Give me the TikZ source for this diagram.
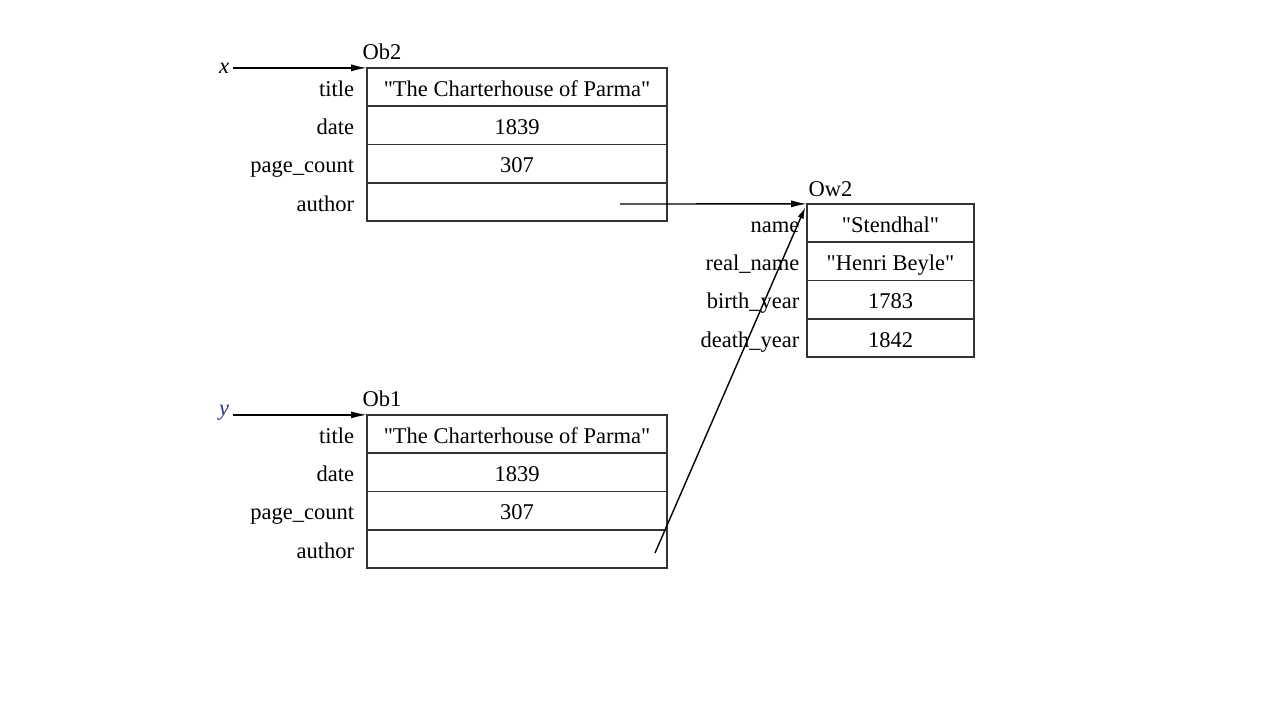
\documentclass[tikz,border=0pt]{standalone}
\usepackage{fontspec}
\setmainfont{Liberation Serif}[Ligatures=TeXOff]
\usetikzlibrary{positioning,arrows.meta}

\definecolor{varblue}{rgb}{0.12,0.22,0.55}

\tikzset{
  cell/.style={draw=black!80, line width=0.5pt, minimum width=3cm, minimum height=3.83mm,
    inner sep=0pt, outer sep=0pt, text height=1.6ex, text depth=0.45ex},
  wcell/.style={cell, minimum width=1.67cm},
  field/.style={inner sep=0pt, text height=1.6ex, text depth=0.45ex},
  objname/.style={inner sep=0pt, anchor=south west},
  ptr/.style={-{Latex[length=4.5pt,width=2pt]}, line width=0.4pt},
}

\begin{document}
\begin{tikzpicture}[x=0.01cm,y=-0.01cm,font=\fontsize{6.4}{7.6}\selectfont]
\useasboundingbox (0,0) rectangle (1280,720);

% first book, Ob2
\node[cell] (b2title) at (517,87) {"The Charterhouse of Parma"};
\node[cell,below=0pt of b2title] (b2date) {1839};
\node[cell,below=0pt of b2date] (b2pages) {307};
\node[cell,below=0pt of b2pages] (b2author) {};
\node[field,left=1.2mm of b2title] {title};
\node[field,left=1.2mm of b2date] {date};
\node[field,left=1.2mm of b2pages] {page\_count};
\node[field,left=1.2mm of b2author] {author};
\node[objname] (ob2) at ([xshift=-1.4pt,yshift=2.2pt]b2title.north west) {Ob2};

% second book, Ob1
\node[cell] (b1title) at (517,434) {"The Charterhouse of Parma"};
\node[cell,below=0pt of b1title] (b1date) {1839};
\node[cell,below=0pt of b1date] (b1pages) {307};
\node[cell,below=0pt of b1pages] (b1author) {};
\node[field,left=1.2mm of b1title] {title};
\node[field,left=1.2mm of b1date] {date};
\node[field,left=1.2mm of b1pages] {page\_count};
\node[field,left=1.2mm of b1author] {author};
\node[objname] (ob1) at ([xshift=-1.4pt,yshift=2pt]b1title.north west) {Ob1};

% writer, Ow2
\node[wcell] (wname) at (890.5,223) {"Stendhal"};
\node[wcell,below=0pt of wname] (wreal) {"Henri Beyle"};
\node[wcell,below=0pt of wreal] (wbirth) {1783};
\node[wcell,below=0pt of wbirth] (wdeath) {1842};
\node[field,left=0.7mm of wname] {name};
\node[field,left=0.7mm of wreal] {real\_name};
\node[field,left=0.7mm of wbirth] {birth\_year};
\node[field,left=0.7mm of wdeath] {death\_year};
\node[objname] (ow2) at ([xshift=0.3pt,yshift=1.7pt]wname.north west) {Ow2};

% variables
\node[inner sep=0pt] (x) at (224,68) {\textit{x}};
\node[inner sep=0pt,text=varblue] (y) at (224,413) {\textit{y}};
\draw[ptr] ([xshift=1pt]x.east |- b2title.north west) -- (b2title.north west);
\draw[ptr] ([xshift=1pt]y.east |- b1title.north west) -- (b1title.north west);

% author references
\coordinate (b2ptr) at (620,204);
\coordinate (b1ptr) at (655,553);
\draw[ptr] (b2ptr) -- (wname.north west);
\draw[-{Latex[length=3.2pt,width=1.8pt]}, line width=0.4pt] (b1ptr) -- ([xshift=-0.5pt,yshift=-1pt]wname.north west);
\end{tikzpicture}
\end{document}
